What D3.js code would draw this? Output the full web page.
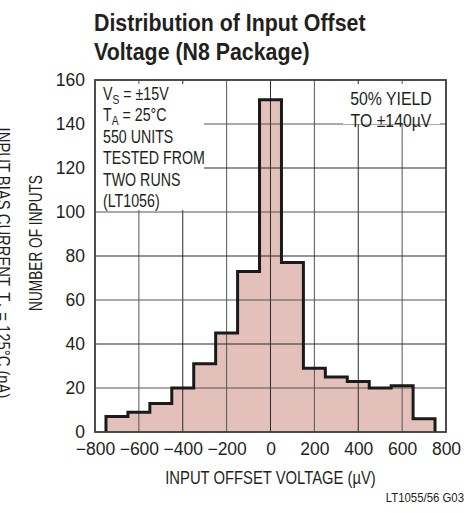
<!DOCTYPE html>
<html>
<head>
<meta charset="utf-8">
<script src="https://cdn.jsdelivr.net/npm/d3@7"></script>
<style>
  body { margin: 0; background: #fff; }
  svg text { font-family: "Liberation Sans", Arial, sans-serif; fill: #231f20; }
</style>
</head>
<body>
<svg id="chart" width="472" height="513"></svg>
<script>
// data
const binCenters = [-700, -600, -500, -400, -300, -200, -100, 0, 100, 200, 300, 400, 500, 600, 700];
const counts = [7, 9, 13, 20, 31, 45, 73, 151, 77, 29, 25, 23, 20, 21, 6];
const binWidth = 100;
const xTicks = [-800, -600, -400, -200, 0, 200, 400, 600, 800];
const yTicks = [0, 20, 40, 60, 80, 100, 120, 140, 160];
const noteLines = ["V|S| = ±15V", "T|A| = 25°C", "550 UNITS", "TESTED FROM", "TWO RUNS", "(LT1056)"];
const yieldLines = ["50% YIELD", "TO ±140µV"];

const svg = d3.select("#chart");
const margin = { top: 80, right: 26, bottom: 81, left: 95 };
const width = +svg.attr("width");
const height = +svg.attr("height");

const x = d3.scaleLinear().domain([-800, 800]).range([margin.left, width - margin.right]);
const y = d3.scaleLinear().domain([0, 160]).range([height - margin.bottom, margin.top]);

const fmt = d => d < 0 ? "\u2212" + Math.abs(d) : String(d);

// no condensed font installed, so squeeze horizontally around the anchor x
function squeeze(sel, k) {
  sel.each(function () {
    const t = d3.select(this);
    const x0 = +t.attr("x") || 0;
    t.attr("transform", `translate(${x0},0) scale(${k},1) translate(${-x0},0)`);
  });
}

// title
const title = svg.append("text")
  .attr("x", 94).attr("y", 31)
  .style("font-size", "24px").style("font-weight", "bold");
title.append("tspan").attr("x", 94).text("Distribution of Input Offset");
title.append("tspan").attr("x", 94).attr("dy", 29).text("Voltage (N8 Package)");
squeeze(title, 0.89);

// histogram outline points
const pts = [[binCenters[0] - binWidth / 2, 0]];
binCenters.forEach((c, i) => {
  pts.push([c - binWidth / 2, counts[i]]);
  pts.push([c + binWidth / 2, counts[i]]);
});
pts.push([binCenters[binCenters.length - 1] + binWidth / 2, 0]);

const line = d3.line().x(d => x(d[0])).y(d => y(d[1]));

svg.append("path")
  .attr("d", line(pts) + "Z")
  .attr("fill", "#e4c0bb");

// grid
const grid = svg.append("g");
grid.selectAll(".vg")
  .data(xTicks.slice(1, -1))
  .enter().append("line")
  .attr("x1", d => x(d)).attr("x2", d => x(d))
  .attr("y1", y(160)).attr("y2", y(0))
  .attr("stroke", (d, i) => i % 2 ? "#2a2a2a" : "#555")
  .attr("stroke-width", 1);
grid.selectAll(".hg")
  .data(yTicks.slice(1, -1))
  .enter().append("line")
  .attr("x1", x(-800)).attr("x2", x(800))
  .attr("y1", d => y(d)).attr("y2", d => y(d))
  .attr("stroke", (d, i) => i % 2 ? "#2a2a2a" : "#555")
  .attr("stroke-width", 1);

// white note boxes over grid
svg.append("rect")
  .attr("x", x(-800) + 1).attr("y", y(160) + 4)
  .attr("width", 108).attr("height", y(100) - y(160) - 6)
  .attr("fill", "#fff");
svg.append("rect")
  .attr("x", 343).attr("y", y(160) + 4)
  .attr("width", 97).attr("height", 40)
  .attr("fill", "#fff");

// histogram outline
svg.append("path")
  .attr("d", line(pts))
  .attr("fill", "none")
  .attr("stroke", "#1a1a1a")
  .attr("stroke-width", 3);

// frame
svg.append("rect")
  .attr("x", x(-800)).attr("y", y(160))
  .attr("width", x(800) - x(-800)).attr("height", y(0) - y(160))
  .attr("fill", "none")
  .attr("stroke", "#3a3a3a")
  .attr("stroke-width", 1.8);

// tick labels
const yAxis = d3.axisLeft(y).tickValues(yTicks).tickSize(0).tickPadding(10);
svg.append("g")
  .attr("transform", `translate(${x(-800)},0)`)
  .call(yAxis)
  .call(g => g.select(".domain").remove())
  .selectAll("text")
  .attr("font-family", null)
  .style("font-size", "17.5px");

const xAxis = d3.axisBottom(x).tickValues(xTicks).tickFormat(fmt).tickSize(0).tickPadding(11);
svg.append("g")
  .attr("transform", `translate(0,${y(0)})`)
  .call(xAxis)
  .call(g => g.select(".domain").remove())
  .selectAll("text")
  .attr("font-family", null)
  .style("font-size", "17.5px");

// axis titles
const xLabel = svg.append("text")
  .attr("x", x(0)).attr("y", 484)
  .attr("text-anchor", "middle")
  .style("font-size", "19px")
  .text("INPUT OFFSET VOLTAGE (µV)");
squeeze(xLabel, 0.78);

svg.append("text")
  .attr("transform", "translate(42,243) rotate(-90) scale(0.72,1)")
  .attr("text-anchor", "middle")
  .style("font-size", "19px")
  .text("NUMBER OF INPUTS");

// clipped label from the neighbouring graph
const side = svg.append("text")
  .attr("transform", "translate(-3.5,263) rotate(90) scale(0.78,1)")
  .attr("text-anchor", "middle")
  .style("font-size", "19px");
side.append("tspan").text("INPUT BIAS CURRENT, T");
side.append("tspan").attr("dy", 4).style("font-size", "13px").text("A");
side.append("tspan").attr("dy", -4).text(" = 125°C (nA)");

const code = svg.append("text")
  .attr("x", 464).attr("y", 502)
  .attr("text-anchor", "end")
  .style("font-size", "12px")
  .text("LT1055/56 G03");
squeeze(code, 0.95);

// notes
const note = svg.append("text").attr("x", 103).style("font-size", "18px");
noteLines.forEach((s, i) => {
  const parts = s.split("|");
  note.append("tspan").attr("x", 103).attr("y", 100 + i * 21.5).text(parts[0]);
  if (parts.length > 1) {
    note.append("tspan").attr("dy", 4).style("font-size", "13px").text(parts[1]);
    note.append("tspan").attr("dy", -4).text(parts[2]);
  }
});
squeeze(note, 0.79);

const yieldNote = svg.append("text").attr("x", 391)
  .style("font-size", "18px").attr("text-anchor", "middle");
yieldLines.forEach((s, i) => {
  yieldNote.append("tspan").attr("x", 391).attr("y", 105 + i * 22).text(s);
});
squeeze(yieldNote, 0.88);
</script>
</body>
</html>
